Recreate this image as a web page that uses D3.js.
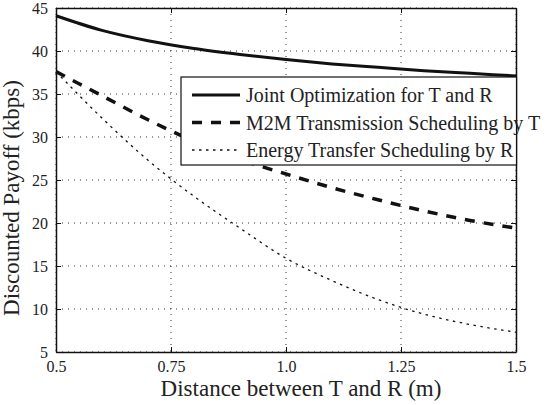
<!DOCTYPE html>
<html>
<head>
<meta charset="utf-8">
<style>
  body { margin: 0; background: #fff; }
  svg { display: block; }
</style>
<script src="https://d3js.org/d3.v7.min.js"></script>
</head>
<body>
<svg width="557" height="405"></svg>
<script>
// distance between T and R (m)
var distance = [0.5, 0.6, 0.7, 0.8, 0.9, 1.0, 1.1, 1.2, 1.3, 1.4, 1.5];
// discounted payoff (kbps)
var joint  = [44.1, 42.4, 41.2, 40.3, 39.6, 39.0, 38.5, 38.1, 37.7, 37.4, 37.1];
var m2m    = [37.6, 34.8, 32.0, 29.5, 27.4, 25.7, 24.1, 22.7, 21.4, 20.3, 19.4];
var energy = [37.6, 32.2, 27.3, 23.1, 19.4, 15.9, 13.3, 11.1, 9.4, 8.2, 7.3];

var xTicks = [0.5, 0.75, 1.0, 1.25, 1.5];
var xTickLabels = ["0.5", "0.75", "1.0", "1.25", "1.5"];
var yTicks = [5, 10, 15, 20, 25, 30, 35, 40, 45];

var seriesNames = ["Joint Optimization for T and R", "M2M Transmission Scheduling by T", "Energy Transfer Scheduling by R"];

var serif = "'Liberation Serif', 'Times New Roman', Times, 'DejaVu Serif', serif";
var svg = d3.select("svg");
var margin = {top: 8, right: 41, bottom: 53, left: 56},
    width = +svg.attr("width") - margin.left - margin.right,
    height = +svg.attr("height") - margin.top - margin.bottom;
var g = svg.append("g").attr("transform", "translate(" + margin.left + "," + margin.top + ")");

var x = d3.scaleLinear().domain([0.5, 1.5]).range([0, width]);
var y = d3.scaleLinear().domain([5, 45]).range([height, 0]);

// grid
g.append("g").selectAll("line").data(xTicks).enter().append("line")
  .attr("x1", function(d) { return x(d); }).attr("x2", function(d) { return x(d); })
  .attr("y1", 0).attr("y2", height)
  .attr("stroke", "#333").attr("stroke-width", 1).attr("stroke-dasharray", "1,5");
g.append("g").selectAll("line").data(yTicks).enter().append("line")
  .attr("y1", function(d) { return y(d); }).attr("y2", function(d) { return y(d); })
  .attr("x1", 0).attr("x2", width)
  .attr("stroke", "#333").attr("stroke-width", 1).attr("stroke-dasharray", "1,5");

// series
var styles = [
  {data: joint,  width: 3,   dash: null},
  {data: m2m,    width: 3.5, dash: "10,9"},
  {data: energy, width: 1.3, dash: "2.5,4.5"}
];
var line = d3.line()
  .x(function(d, i) { return x(distance[i]); })
  .y(function(d) { return y(d); })
  .curve(d3.curveMonotoneX);

styles.forEach(function(s) {
  g.append("path")
    .datum(s.data)
    .attr("d", line)
    .attr("fill", "none")
    .attr("stroke", "#111")
    .attr("stroke-width", s.width)
    .attr("stroke-dasharray", s.dash);
});

// axes (inward ticks, box)
var fmt = function(d) { return xTickLabels[xTicks.indexOf(d)]; };
var axB = g.append("g").attr("transform", "translate(0," + height + ")")
  .call(d3.axisBottom(x).tickValues(xTicks).tickFormat(fmt).tickSizeInner(-5).tickSizeOuter(0).tickPadding(9));
var axL = g.append("g")
  .call(d3.axisLeft(y).tickValues(yTicks).tickSizeInner(-5).tickSizeOuter(0).tickPadding(8));
var axT = g.append("g")
  .call(d3.axisTop(x).tickValues(xTicks).tickFormat("").tickSizeInner(-5).tickSizeOuter(0));
var axR = g.append("g").attr("transform", "translate(" + width + ",0)")
  .call(d3.axisRight(y).tickValues(yTicks).tickFormat("").tickSizeInner(-5).tickSizeOuter(0));

[axB, axL, axT, axR].forEach(function(a) {
  a.attr("font-family", null).style("font-family", serif);
  a.select(".domain").attr("stroke", "#111").attr("stroke-width", 1.5);
  a.selectAll(".tick line").attr("stroke", "#111");
  a.selectAll("text").attr("fill", "#222").attr("font-size", 16).style("font-family", serif);
});

// axis labels
svg.append("text")
  .attr("x", 301).attr("y", 396)
  .attr("text-anchor", "middle")
  .style("font-family", serif)
  .attr("font-size", 23).attr("fill", "#222")
  .text("Distance between T and R (m)");
svg.append("text")
  .attr("transform", "translate(19,198) rotate(-90)")
  .attr("text-anchor", "middle")
  .style("font-family", serif)
  .attr("font-size", 23).attr("fill", "#222")
  .text("Discounted Payoff (kbps)");

// legend
var lg = svg.append("g");
lg.append("rect")
  .attr("x", 181).attr("y", 77).attr("width", 335.5).attr("height", 88)
  .attr("fill", "#fff").attr("stroke", "#111").attr("stroke-width", 1.2);
var rows = lg.selectAll("g.row").data(seriesNames).enter().append("g")
  .attr("transform", function(d, i) { return "translate(0," + (95 + i * 27.5) + ")"; });
rows.append("line")
  .attr("x1", 192).attr("x2", 240)
  .attr("stroke", "#111")
  .attr("stroke-width", function(d, i) { return styles[i].width; })
  .attr("stroke-dasharray", function(d, i) { return styles[i].dash; });
rows.append("text")
  .attr("x", 246).attr("dy", "0.35em")
  .style("font-family", serif)
  .attr("font-size", 20).attr("fill", "#222")
  .text(function(d) { return d; });
</script>
</body>
</html>
